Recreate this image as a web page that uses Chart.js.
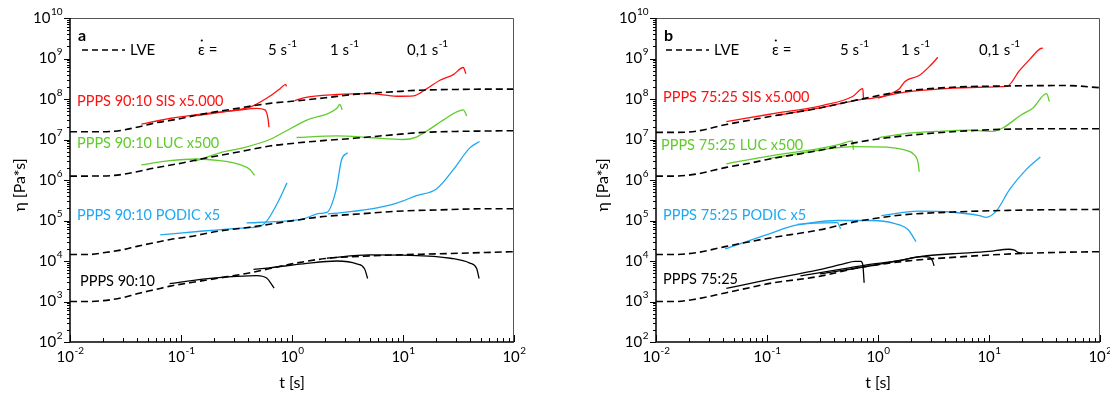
<!DOCTYPE html>
<html>
<head>
<meta charset="utf-8">
<script src="https://cdn.jsdelivr.net/npm/chart.js@4.4.0/dist/chart.umd.min.js"></script>
<style>
  body { margin: 0; background: #fff; }
  #wrap { position: relative; width: 1110px; height: 397px; }
  canvas { position: absolute; top: 0; }
</style>
</head>
<body>
<div id="wrap">
  <canvas id="chartA" width="555" height="397" style="left:0"></canvas>
  <canvas id="chartB" width="555" height="397" style="left:555px"></canvas>
</div>
<script>
// axis ticks
const xMajor = [0.01, 0.1, 1, 10, 100];
const xExp = ['-2', '-1', '0', '1', '2'];
const yMajor = [1e2, 1e3, 1e4, 1e5, 1e6, 1e7, 1e8, 1e9, 1e10];
const yExp = ['2', '3', '4', '5', '6', '7', '8', '9', '10'];

// ---- panel a : PPPS 90:10 ----  [t (s), eta (Pa*s)]
const aLveBase = [[0.01,1000],[0.015,1000],[0.02,1050],[0.03,1250],[0.04,1550],[0.06,2000],[0.08,2400],[0.12,2900],[0.22,3800],[0.4,5000],[0.63,6500],[1,8500],[2,11500],[4,13000],[10,14300],[20,15000],[55,16200],[100,17000]];
const aLvePodic = [[0.01,14500],[0.015,14500],[0.02,16000],[0.03,19000],[0.04,23000],[0.06,29000],[0.08,34000],[0.12,40000],[0.22,55000],[0.4,67000],[0.63,81000],[1,98000],[1.8,123000],[4,145000],[10,172000],[20,182000],[55,195000],[100,195000]];
const aLveLuc = [[0.01,1.25e6],[0.015,1.25e6],[0.025,1.3e6],[0.04,1.6e6],[0.056,1.95e6],[0.1,2.6e6],[0.16,3.4e6],[0.3,4.7e6],[0.63,6.9e6],[1,8e6],[2,9.5e6],[3.6,1.07e7],[8,1.3e7],[14,1.48e7],[30,1.58e7],[55,1.62e7],[100,1.65e7]];
const aLveSis = [[0.01,1.55e7],[0.015,1.55e7],[0.025,1.6e7],[0.04,2.0e7],[0.056,2.5e7],[0.1,3.3e7],[0.16,4.3e7],[0.3,5.7e7],[0.63,7.8e7],[1,8.8e7],[2,1.07e8],[3.6,1.3e8],[8,1.5e8],[14,1.65e8],[30,1.72e8],[55,1.75e8],[100,1.75e8]];

const aSis5 = [[0.044,2.4e7],[0.079,3.3e7],[0.158,4.3e7],[0.318,5.25e7],[0.48,5.9e7],[0.57,5.4e7],[0.61,3.1e7],[0.62,2.0e7]];
const aSis1 = [[0.138,3.9e7],[0.318,5.4e7],[0.43,6.5e7],[0.63,1.17e8],[0.78,1.8e8],[0.88,2.3e8],[0.89,2.05e8]];
const aSis01 = [[1.06,9.1e7],[1.27,1.07e8],[2.54,1.29e8],[5,1.35e8],[8.8,1.17e8],[12.5,1.2e8],[16.3,1.78e8],[21.5,2.9e8],[28.4,4e8],[34.9,6.0e8],[36.9,4.2e8]];
const aLuc5 = [[0.044,2.35e6],[0.079,3.0e6],[0.138,3.3e6],[0.224,3.0e6],[0.34,2.4e6],[0.42,1.8e6],[0.46,1.3e6]];
const aLuc1 = [[0.133,2.9e6],[0.224,4.7e6],[0.36,6.2e6],[0.63,1.0e7],[0.78,1.35e7],[1.36,3.0e7],[2.54,5.9e7],[2.7,7.4e7],[2.83,5.4e7]];
const aLuc01 = [[1.1,1.12e7],[2.54,1.23e7],[5,1.12e7],[10,1.0e7],[13.2,1.15e7],[17.7,1.86e7],[23,3.0e7],[35,5.4e7],[37.5,3.8e7]];
const aPod5 = [[0.065,4.4e4],[0.158,5.5e4],[0.39,6.6e4],[0.51,7.1e4],[0.59,9.5e4],[0.78,3.6e5],[0.9,8.5e5]];
const aPod1 = [[0.39,8.7e4],[0.78,9.5e4],[1.26,1.1e5],[1.79,1.5e5],[2.06,1.58e5],[2.5,5.8e5],[2.8,3.2e6],[3.17,4.7e6]];
const aPod01 = [[2.1,1.45e5],[5,1.9e5],[8.8,2.7e5],[13.2,4.1e5],[20,6.0e5],[28.4,1.8e6],[40,6.2e6],[49,8.9e6]];
const aBase5 = [[0.079,2750],[0.158,3550],[0.318,4150],[0.48,4350],[0.59,3800],[0.69,2150]];
const aBase1 = [[0.45,6200],[0.63,6800],[1.26,8500],[2.54,10000],[3.83,8500],[4.5,6450],[4.8,3700]];
const aBase01 = [[2.06,11700],[5,14100],[11.6,13800],[26.8,11700],[40,8900],[46,6600],[48.5,3700]];

// ---- panel b : PPPS 75:25 ----
const bLveBase = [[0.01,1000],[0.015,1000],[0.023,1150],[0.043,1650],[0.07,2200],[0.106,2800],[0.3,4200],[0.65,6700],[1.7,9800],[4.7,12300],[16,15000],[50,16500],[100,17000]];
const bLvePodic = [[0.01,14500],[0.015,14500],[0.023,16000],[0.043,23000],[0.07,30000],[0.106,37000],[0.3,59000],[0.65,95000],[1.7,138000],[4.7,162000],[15,178000],[50,186000],[100,188000]];
const bLveLuc = [[0.01,1.25e6],[0.015,1.25e6],[0.023,1.4e6],[0.043,2.05e6],[0.07,2.6e6],[0.106,3.3e6],[0.3,5.4e6],[0.65,8.5e6],[1.2,1.1e7],[3.3,1.45e7],[10.8,1.75e7],[50,1.85e7],[100,1.85e7]];
const bLveSis = [[0.01,1.5e7],[0.015,1.5e7],[0.023,1.6e7],[0.043,2.35e7],[0.07,3.0e7],[0.106,3.7e7],[0.3,6e7],[0.65,9.5e7],[1.7,1.55e8],[4.7,1.95e8],[15,2.1e8],[50,2.15e8],[100,1.9e8]];

const bSis5 = [[0.043,2.75e7],[0.106,4.2e7],[0.32,7.0e7],[0.59,1.15e8],[0.73,1.8e8],[0.74,1.0e8]];
const bSis1 = [[1.0,1.05e8],[1.3,1.35e8],[1.56,1.8e8],[1.75,2.7e8],[2.35,3.8e8],[2.95,6.6e8],[3.46,1.07e9]];
const bSis01 = [[0.12,3.9e7],[0.3,6e7],[0.6,9e7],[1.0,1.1e8],[1.7,1.45e8],[4,1.8e8],[8,1.95e8],[14.5,2.05e8],[18.8,5e8],[23.5,9.8e8],[29,1.75e9],[30.5,1.8e9]];
const bLuc5 = [[0.043,2.5e6],[0.104,3.9e6],[0.3,6.0e6],[0.45,7.6e6],[0.59,9.3e6],[0.6,5.6e6]];
const bLuc1 = [[0.105,3.4e6],[0.2,4.6e6],[0.35,5.9e6],[0.6,6.7e6],[1.2,6.5e6],[1.7,5.6e6],[2.1,4.3e6],[2.3,2.6e6],[2.35,1.6e6]];
const bLuc01 = [[1.0,1.1e7],[1.68,1.38e7],[3.35,1.58e7],[6.7,1.7e7],[10.8,1.58e7],[13.4,1.95e7],[19.6,4.1e7],[24.9,6e7],[33,1.35e8],[35,8.7e7]];
const bPod5 = [[0.042,2.0e4],[0.1,4.5e4],[0.188,7.8e4],[0.43,8.9e4],[0.46,6.2e4]];
const bPod1 = [[0.188,8.0e4],[0.43,1.0e5],[0.89,1.0e5],[1.39,8.5e4],[1.87,5.9e4],[2.2,3.0e4]];
const bPod01 = [[1.07,1.32e5],[2.3,1.7e5],[4.7,1.6e5],[8.2,1.32e5],[9.4,1.2e5],[11.6,1.7e5],[15.3,5.8e5],[21.6,1.8e6],[29,3.7e6]];
const bBase5 = [[0.043,2100],[0.1,3400],[0.29,6000],[0.49,8500],[0.62,9800],[0.7,9800],[0.73,8000],[0.75,2900]];
const bBase1 = [[0.2,4300],[0.5,6500],[0.77,7900],[1.5,10000],[2.5,12900],[2.9,12500],[3.1,10000],[3.2,7600]];
const bBase01 = [[0.3,4800],[1,8200],[2.5,13000],[4.7,15100],[10,17200],[15,19500],[17,18500],[18.6,16000],[21,15600]];

const RED = '#ff1010', GREEN = '#5fcc2a', BLUE = '#1fa8f2', BLACK = '#000000';
const FONT = 'Lato, "Noto Sans", sans-serif';

function curve(pts, color) {
  return {
    data: pts.map(p => ({x: p[0], y: p[1]})),
    borderColor: color, borderWidth: 1.3,
    showLine: true, pointRadius: 0, fill: false,
    cubicInterpolationMode: 'monotone'
  };
}
function lve(pts) {
  const d = curve(pts, BLACK);
  d.borderWidth = 1.6;
  d.borderDash = [7, 4];
  return d;
}

function withMinors(majors) {
  const out = [];
  majors.forEach((v, i) => {
    out.push({value: v, major: true});
    if (i < majors.length - 1) for (let k = 2; k < 10; k++) out.push({value: v * k, major: false});
  });
  return out;
}

// "10" + superscript, or "5 s" + "-1"
function supText(ctx, base, exp, x, y, align) {
  ctx.font = '15px ' + FONT;
  const wb = ctx.measureText(base).width;
  ctx.font = '10px ' + FONT;
  const we = ctx.measureText(exp).width;
  let x0 = x;
  if (align === 'center') x0 = x - (wb + we) / 2;
  else if (align === 'right') x0 = x - wb - we;
  ctx.textAlign = 'left';
  ctx.textBaseline = 'middle';
  ctx.font = '15px ' + FONT;
  ctx.fillText(base, x0, y);
  ctx.font = '10px ' + FONT;
  ctx.fillText(exp, x0 + wb + 0.5, y - 6.5);
}

const decor = {
  id: 'decor',
  afterDraw(chart, args, o) {
    const ctx = chart.ctx, a = chart.chartArea;
    const xs = chart.scales.x, ys = chart.scales.y;
    ctx.save();
    // frame
    ctx.strokeStyle = '#555'; ctx.lineWidth = 1;
    ctx.beginPath();
    ctx.moveTo(a.left, a.top + 0.5); ctx.lineTo(a.right - 0.5, a.top + 0.5); ctx.lineTo(a.right - 0.5, a.bottom);
    ctx.stroke();
    ctx.strokeStyle = '#000'; ctx.lineWidth = 1.5;
    ctx.beginPath();
    ctx.moveTo(a.left, a.top); ctx.lineTo(a.left, a.bottom); ctx.lineTo(a.right, a.bottom);
    ctx.stroke();
    // tick marks
    ctx.lineWidth = 1;
    ctx.beginPath();
    xs.ticks.forEach(t => {
      const px = Math.round(xs.getPixelForValue(t.value)) + 0.5;
      ctx.moveTo(px, a.bottom); ctx.lineTo(px, a.bottom - (t.major ? 7 : 4));
    });
    ys.ticks.forEach(t => {
      const py = Math.round(ys.getPixelForValue(t.value)) + 0.5;
      ctx.moveTo(a.left, py); ctx.lineTo(a.left - (t.major ? 6 : 3), py);
    });
    ctx.stroke();
    // tick labels
    ctx.fillStyle = '#000';
    xMajor.forEach((v, i) => supText(ctx, '10', xExp[i], xs.getPixelForValue(v), a.bottom + 15, 'center'));
    yMajor.forEach((v, i) => supText(ctx, '10', yExp[i], a.left - 8, ys.getPixelForValue(v), 'right'));
    // axis titles
    ctx.font = '16px ' + FONT;
    ctx.textAlign = 'center'; ctx.textBaseline = 'middle';
    ctx.fillText('t [s]', (a.left + a.right) / 2, 383);
    ctx.save();
    ctx.translate(o.yTitleX, 185);
    ctx.rotate(-Math.PI / 2);
    ctx.fillText('\u03b7 [Pa*s]', 0, 0);
    ctx.restore();
    // panel letter
    ctx.font = 'bold 16px ' + FONT;
    ctx.textAlign = 'left'; ctx.textBaseline = 'alphabetic';
    ctx.fillText(o.letter, o.letterX, 41);
    // legend row
    ctx.setLineDash([6, 4]); ctx.lineWidth = 1.5;
    ctx.beginPath(); ctx.moveTo(o.dashX, 50); ctx.lineTo(o.dashX + 43, 50); ctx.stroke();
    ctx.setLineDash([]);
    ctx.font = '15px ' + FONT; ctx.textBaseline = 'middle';
    ctx.fillText('LVE', o.dashX + 48, 50);
    ctx.fillText('\u03b5 =', o.epsX, 50);
    ctx.beginPath(); ctx.arc(o.epsX + 3.8, 40.5, 1.1, 0, Math.PI * 2); ctx.fill();
    o.rates.forEach(r => supText(ctx, r[0], '-1', r[1], 50, 'left'));
    // series labels
    ctx.font = '14.5px ' + FONT; ctx.textAlign = 'left'; ctx.textBaseline = 'middle';
    o.labels.forEach(l => { ctx.fillStyle = l[1]; ctx.fillText(l[0], l[2], l[3]); });
    ctx.restore();
  }
};

function makeChart(id, datasets, leftW, rightPad, o) {
  new Chart(document.getElementById(id).getContext('2d'), {
    type: 'scatter',
    data: {datasets},
    options: {
      responsive: false, animation: false, devicePixelRatio: 1,
      layout: {padding: {left: 0, right: rightPad, top: 18, bottom: 0}},
      plugins: {legend: {display: false}, tooltip: {enabled: false}, decor: o},
      scales: {
        x: {
          type: 'logarithmic', min: 0.01, max: 100,
          ticks: {display: false}, grid: {display: false}, border: {display: false},
          afterBuildTicks: s => { s.ticks = withMinors(xMajor); },
          afterFit: s => { s.height = 55; }
        },
        y: {
          type: 'logarithmic', min: 1e2, max: 1e10,
          ticks: {display: false}, grid: {display: false}, border: {display: false},
          afterBuildTicks: s => { s.ticks = withMinors(yMajor); },
          afterFit: s => { s.width = leftW; }
        }
      }
    },
    plugins: [decor]
  });
}

makeChart('chartA', [
  lve(aLveSis), lve(aLveLuc), lve(aLvePodic), lve(aLveBase),
  curve(aSis5, RED), curve(aSis1, RED), curve(aSis01, RED),
  curve(aLuc5, GREEN), curve(aLuc1, GREEN), curve(aLuc01, GREEN),
  curve(aPod5, BLUE), curve(aPod1, BLUE), curve(aPod01, BLUE),
  curve(aBase5, BLACK), curve(aBase1, BLACK), curve(aBase01, BLACK)
], 70, 41, {
  letter: 'a', letterX: 78, yTitleX: 20, dashX: 82, epsX: 198,
  rates: [['5 s', 268], ['1 s', 330], ['0,1 s', 407]],
  labels: [
    ['PPPS 90:10 SIS x5.000', RED, 77, 101],
    ['PPPS 90:10 LUC x500', GREEN, 77, 143],
    ['PPPS 90:10 PODIC x5', BLUE, 77, 215],
    ['PPPS 90:10', BLACK, 80, 281]
  ]
});

makeChart('chartB', [
  lve(bLveSis), lve(bLveLuc), lve(bLvePodic), lve(bLveBase),
  curve(bSis5, RED), curve(bSis1, RED), curve(bSis01, RED),
  curve(bLuc5, GREEN), curve(bLuc1, GREEN), curve(bLuc01, GREEN),
  curve(bPod5, BLUE), curve(bPod1, BLUE), curve(bPod01, BLUE),
  curve(bBase5, BLACK), curve(bBase1, BLACK), curve(bBase01, BLACK)
], 101, 10, {
  letter: 'b', letterX: 109, yTitleX: 48, dashX: 111, epsX: 217,
  rates: [['5 s', 285], ['1 s', 346], ['0,1 s', 424]],
  labels: [
    ['PPPS 75:25 SIS x5.000', RED, 108, 97],
    ['PPPS 75:25 LUC x500', GREEN, 106, 145],
    ['PPPS 75:25 PODIC x5', BLUE, 108, 215],
    ['PPPS 75:25', BLACK, 108, 279]
  ]
});
</script>
</body>
</html>
